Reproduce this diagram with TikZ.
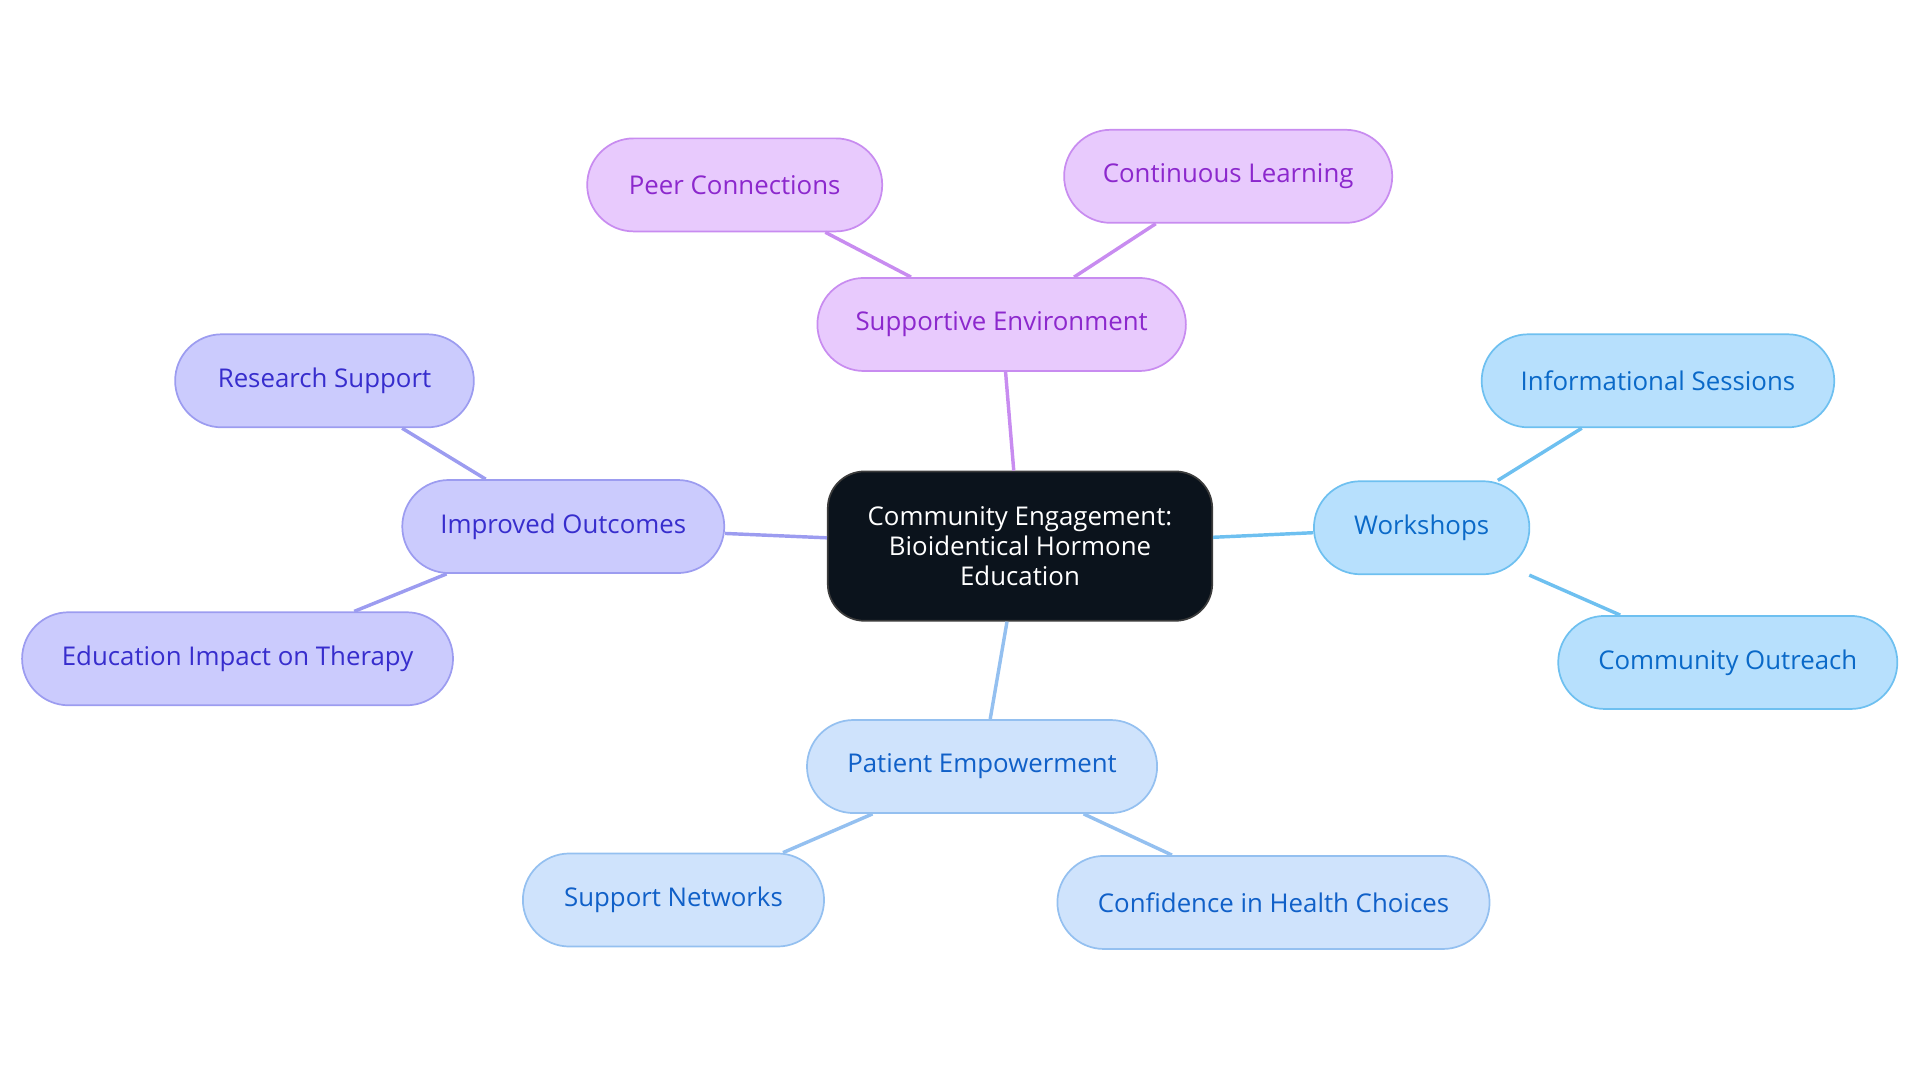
\documentclass[tikz,border=0pt]{standalone}
\usepackage{fontspec}
\setmainfont{Open Sans}
\begin{document}
\begin{tikzpicture}[x=0.02cm,y=-0.02cm,
 box/.style={rounded corners=0.76cm,line width=0.8pt,inner sep=0pt,align=center,minimum height=1.52cm,font=\fontsize{12}{14}\selectfont},
 pu/.style={box,fill={rgb,255:red,232;green,202;blue,253},draw={rgb,255:red,200;green,140;blue,240},text={rgb,255:red,140;green,40;blue,205}},
 iv/.style={box,fill={rgb,255:red,203;green,203;blue,253},draw={rgb,255:red,156;green,156;blue,240},text={rgb,255:red,55;green,45;blue,205}},
 sk/.style={box,fill={rgb,255:red,183;green,224;blue,253},draw={rgb,255:red,110;green,192;blue,240},text={rgb,255:red,10;green,105;blue,200}},
 pb/.style={box,fill={rgb,255:red,207;green,227;blue,252},draw={rgb,255:red,148;green,192;blue,240},text={rgb,255:red,16;green,96;blue,200}},
 e/.style={line width=1.6pt}]
\useasboundingbox (0,0) rectangle (1568,884);
\node[box,rounded corners=0.6cm,fill={rgb,255:red,11;green,19;blue,28},draw={rgb,255:red,60;green,60;blue,60},text=white,minimum width=6.28cm,minimum height=2.44cm] (c) at (833,446) {Community Engagement:\\Bioidentical Hormone\\Education};
\node[pu,minimum width=6.02cm] (se) at (818,265) {Supportive Environment};
\node[pu,minimum width=4.82cm] (pc) at (600,151) {Peer Connections};
\node[pu,minimum width=5.36cm] (cl) at (1003,144) {Continuous Learning};
\node[iv,minimum width=5.26cm] (io) at (460,430) {Improved Outcomes};
\node[iv,minimum width=4.88cm] (rs) at (265,311) {Research Support};
\node[iv,minimum width=7.04cm] (ei) at (194,538) {Education Impact on Therapy};
\node[sk,minimum width=3.52cm] (ws) at (1161,431) {Workshops};
\node[sk,minimum width=5.76cm] (is) at (1354,311) {Informational Sessions};
\node[sk,minimum width=5.54cm] (co) at (1411,541) {Community Outreach};
\node[pb,minimum width=5.72cm] (pe) at (802,626) {Patient Empowerment};
\node[pb,minimum width=4.92cm] (sn) at (550,735) {Support Networks};
\node[pb,minimum width=7.06cm] (ch) at (1040,737) {Confidence in Health Choices};
\begin{scope}[on background layer/.style={}]
\draw[e,draw={rgb,255:red,200;green,140;blue,240}] (c) -- (se) (se) -- (pc) (se) -- (cl);
\draw[e,draw={rgb,255:red,156;green,156;blue,240}] (c) -- (io) (io) -- (rs) (io) -- (ei);
\draw[e,draw={rgb,255:red,110;green,192;blue,240}] (c) -- (ws) (ws) -- (is) (ws) -- (co);
\draw[e,draw={rgb,255:red,148;green,192;blue,240}] (c) -- (pe) (pe) -- (sn) (pe) -- (ch);
\end{scope}
\end{tikzpicture}
\end{document}
